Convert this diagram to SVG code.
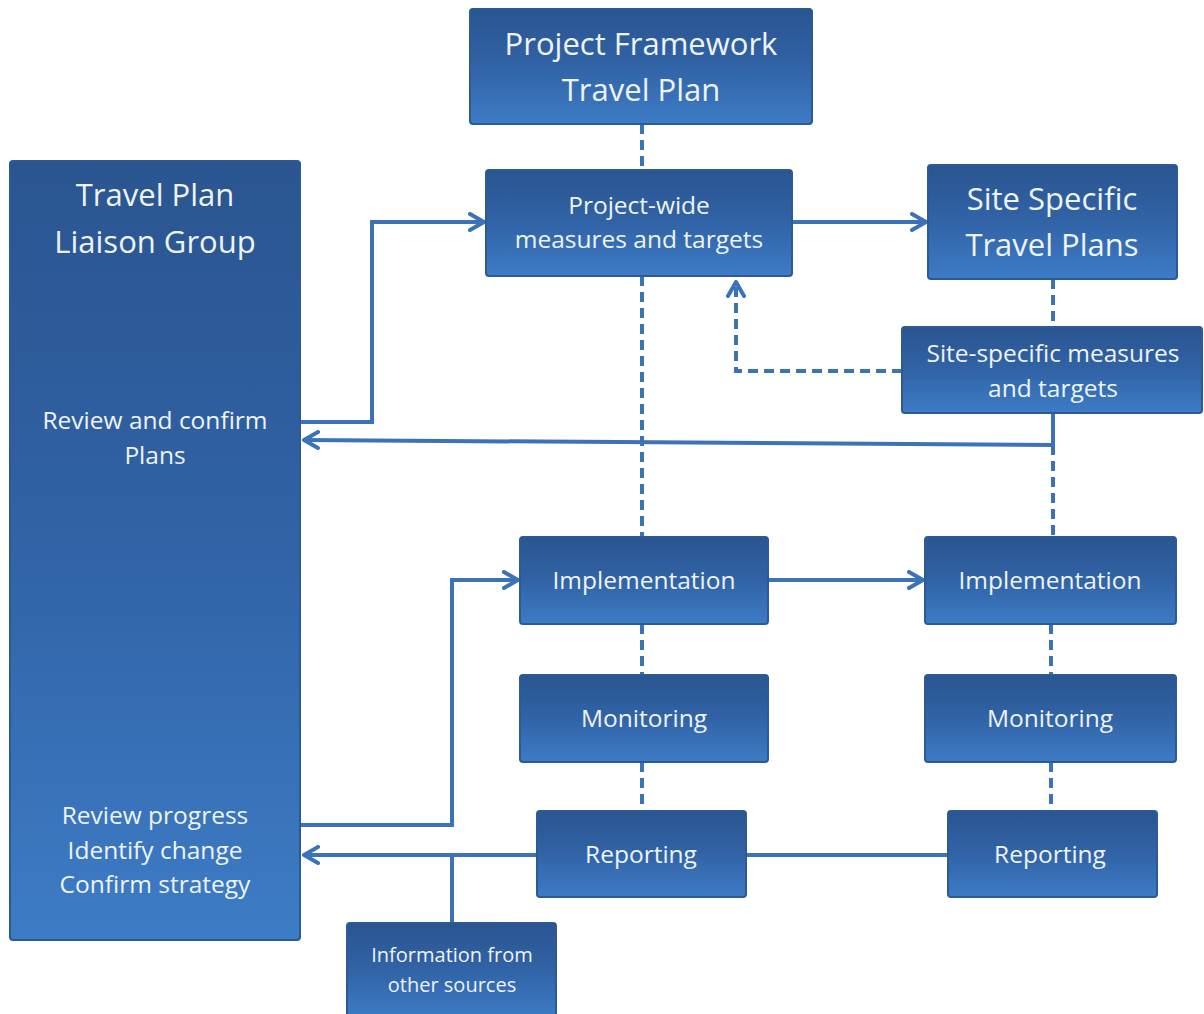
<svg xmlns="http://www.w3.org/2000/svg" width="1204" height="1014" viewBox="0 0 1204 1014">
<defs>
<linearGradient id="g" x1="0" y1="0" x2="0" y2="1">
<stop offset="0" stop-color="#2a5590"/>
<stop offset="0.5" stop-color="#3163a6"/>
<stop offset="1" stop-color="#3d7cc6"/>
</linearGradient>
<marker id="ah" viewBox="0 0 20 20" refX="18" refY="10" markerWidth="20" markerHeight="20" markerUnits="userSpaceOnUse" orient="auto">
<path d="M4,2 L18,10 L4,18" fill="none" stroke="#3b72b8" stroke-width="4" stroke-linecap="round" stroke-linejoin="round"/>
</marker>
</defs>
<style>
.box{fill:url(#g);stroke:#2b5a96;stroke-width:2}
.t{font-family:"Open Sans",Lato,sans-serif;fill:#eef3fa;text-anchor:middle}
.big{font-size:31px}
.mid{font-size:24.5px}
.sm{font-size:20px}
.c{fill:none;stroke:#3b72b8;stroke-width:4}
.d{fill:none;stroke:#3b72b8;stroke-width:4;stroke-dasharray:10 6}
</style>
<rect width="1204" height="1014" fill="#ffffff"/>
<g id="connectors">
<line class="d" x1="642" y1="124" x2="642" y2="170"/>
<line class="d" x1="642" y1="276" x2="642" y2="537"/>
<line class="d" x1="642" y1="624" x2="642" y2="675"/>
<line class="d" x1="642" y1="762" x2="642" y2="811"/>
<line class="d" x1="1053" y1="279" x2="1053" y2="327"/>
<line class="d" x1="1053" y1="413" x2="1053" y2="537"/>
<line class="d" x1="1051" y1="624" x2="1051" y2="675"/>
<line class="d" x1="1051" y1="762" x2="1051" y2="811"/>
<path class="d" d="M902,371 H736 V282" marker-end="url(#ah)"/>
<path class="c" d="M300,422 H372 V222 H484" marker-end="url(#ah)"/>
<path class="c" d="M792,222 H926" marker-end="url(#ah)"/>
<path class="c" d="M1053,413 V445 L304,440" marker-end="url(#ah)"/>
<path class="c" d="M300,825 H452 V580 H518" marker-end="url(#ah)"/>
<path class="c" d="M768,580 H923" marker-end="url(#ah)"/>
<path class="c" d="M948,855 H746"/>
<path class="c" d="M537,855 H304" marker-end="url(#ah)"/>
<path class="c" d="M452,855 V923"/>
</g>
<g id="framework">
<rect class="box" x="470" y="9" width="342" height="115" rx="3"/>
<text class="t big" x="641" y="55">Project Framework</text>
<text class="t big" x="641" y="101">Travel Plan</text>
</g>
<g id="liaison">
<rect class="box" x="10" y="161" width="290" height="779" rx="3"/>
<text class="t big" x="155" y="206">Travel Plan</text>
<text class="t big" x="155" y="253">Liaison Group</text>
<text class="t mid" x="155" y="429">Review and confirm</text>
<text class="t mid" x="155" y="464">Plans</text>
<text class="t mid" x="155" y="824">Review progress</text>
<text class="t mid" x="155" y="859">Identify change</text>
<text class="t mid" x="155" y="893">Confirm strategy</text>
</g>
<g id="projectwide">
<rect class="box" x="486" y="170" width="306" height="106" rx="3"/>
<text class="t mid" x="639" y="214">Project-wide</text>
<text class="t mid" x="639" y="248">measures and targets</text>
</g>
<g id="sitespecific">
<rect class="box" x="928" y="165" width="249" height="114" rx="3"/>
<text class="t big" x="1052" y="210">Site Specific</text>
<text class="t big" x="1052" y="256">Travel Plans</text>
</g>
<g id="sitemeasures">
<rect class="box" x="902" y="327" width="300" height="86" rx="3"/>
<text class="t mid" x="1053" y="362">Site-specific measures</text>
<text class="t mid" x="1053" y="397">and targets</text>
</g>
<g id="impl-left">
<rect class="box" x="520" y="537" width="248" height="87" rx="3"/>
<text class="t mid" x="644" y="589">Implementation</text>
</g>
<g id="impl-right">
<rect class="box" x="925" y="537" width="251" height="87" rx="3"/>
<text class="t mid" x="1050" y="589">Implementation</text>
</g>
<g id="mon-left">
<rect class="box" x="520" y="675" width="248" height="87" rx="3"/>
<text class="t mid" x="644" y="727">Monitoring</text>
</g>
<g id="mon-right">
<rect class="box" x="925" y="675" width="251" height="87" rx="3"/>
<text class="t mid" x="1050" y="727">Monitoring</text>
</g>
<g id="rep-left">
<rect class="box" x="537" y="811" width="209" height="86" rx="3"/>
<text class="t mid" x="641" y="863">Reporting</text>
</g>
<g id="rep-right">
<rect class="box" x="948" y="811" width="209" height="86" rx="3"/>
<text class="t mid" x="1050" y="863">Reporting</text>
</g>
<g id="info">
<rect class="box" x="347" y="923" width="209" height="95" rx="3"/>
<text class="t sm" x="452" y="962">Information from</text>
<text class="t sm" x="452" y="992">other sources</text>
</g>
</svg>
